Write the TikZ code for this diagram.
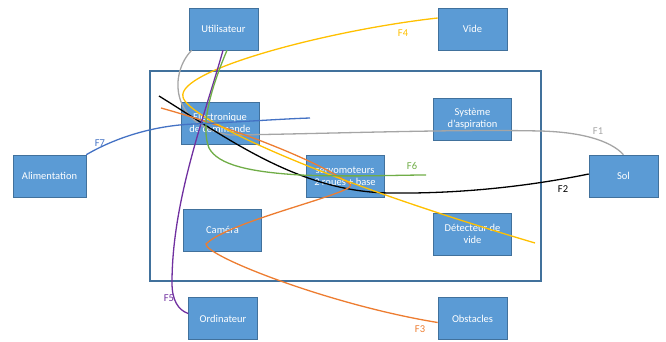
\documentclass[tikz,border=0pt]{standalone}
\usepackage{fontspec}
\setmainfont{Carlito}
\definecolor{boite}{HTML}{5B9BD5}
\definecolor{bord}{HTML}{41719C}
\definecolor{fgris}{HTML}{A5A5A5}
\definecolor{forange}{HTML}{ED7D31}
\definecolor{fjaune}{HTML}{FFC000}
\definecolor{fviolet}{HTML}{7030A0}
\definecolor{fvert}{HTML}{70AD47}
\definecolor{fbleu}{HTML}{4472C4}
\begin{document}
\begin{tikzpicture}[
		x=1pt, y=-1pt,
		font=\fontsize{10.5}{12}\selectfont,
		bloc/.style={rectangle, fill=boite, draw=bord, line width=0.6pt, text=white, align=center, minimum width=78pt, minimum height=42pt, inner sep=1pt},
		petit/.style={bloc, minimum width=69pt},
		flux/.style={line width=1.3pt},
		etiq/.style={inner sep=0pt}
	]
	\useasboundingbox (0,0) rectangle (666,342);
	\draw[bord, line width=2pt] (150,71) rectangle (541,281);

	\node[petit] (util) at (223.5,29) {Utilisateur};
	\node[petit] (vide) at (472.5,29) {Vide};
	\node[bloc] (elec) at (220,123) {Electronique\\de commande};
	\node[bloc] (aspi) at (472.5,119) {Système\\d'aspiration};
	\node[bloc] (servo) at (345,176) {servomoteurs\\2 roues + base};
	\node[bloc] (camera) at (222.5,230) {Caméra};
	\node[bloc] (detect) at (472.5,234) {Détecteur de\\vide};
	\node[petit] (ordi) at (223,318.5) {Ordinateur};
	\node[petit] (obst) at (472.5,318.5) {Obstacles};
	\node[bloc, minimum width=73pt] (alim) at (49.5,176) {Alimentation};
	\node[petit] (sol) at (623.5,176) {Sol};

	\coordinate (debF2) at (159,96);
	\coordinate (debF3) at (161,108);
	\coordinate (finF4) at (535,243);
	\coordinate (finF6) at (426,175);
	\coordinate (finF7) at (310,118);

	\draw[flux, fgris] ([xshift=3pt]util.south west) .. controls (170,72) and (168,125) .. (230,135)
		.. controls (320,134) and (450,129) .. (540,131) .. controls (580,132) and (610,140) .. (sol.north);
	\draw[flux, black] (debF2) .. controls (230,140) and (300,192) .. (390,193)
		.. controls (470,194) and (540,184) .. ([yshift=2pt]sol.west);
	\draw[flux, forange] (debF3) .. controls (240,130) and (320,162) .. (350,184)
		.. controls (362,192) and (230,220) .. (206,244) .. controls (205,256) and (330,305) .. ([yshift=-4pt]obst.west);
	\draw[flux, fjaune] ([yshift=11pt]vide.west) .. controls (330,30) and (176,70) .. (183,97)
		.. controls (186,115) and (295,172) .. (finF4);
	\draw[flux, fviolet] ([xshift=-0.5pt]util.south) .. controls (205,115) and (172,200) .. (172,283)
		.. controls (172,300) and (178,310) .. ([yshift=5pt]ordi.west);
	\draw[flux, fvert] ([xshift=3.5pt]util.south) .. controls (206,100) and (202,130) .. (209,148)
		.. controls (218,165) and (250,172) .. (300,175) .. controls (350,177) and (400,175) .. (finF6);
	\draw[flux, fbleu] (alim.north east) .. controls (120,135) and (160,125) .. (195,124)
		.. controls (240,122) and (280,119) .. (finF7);

	\node[etiq, text=fgris] (lF1) at (598,131) {F1};
	\node[etiq, text=black] (lF2) at (563,189) {F2};
	\node[etiq, text=forange] (lF3) at (420,329) {F3};
	\node[etiq, text=fjaune] (lF4) at (403,33) {F4};
	\node[etiq, text=fviolet] (lF5) at (169,298) {F5};
	\node[etiq, text=fvert] (lF6) at (412,166) {F6};
	\node[etiq, text=fbleu] (lF7) at (100,143) {F7};
\end{tikzpicture}
\end{document}
